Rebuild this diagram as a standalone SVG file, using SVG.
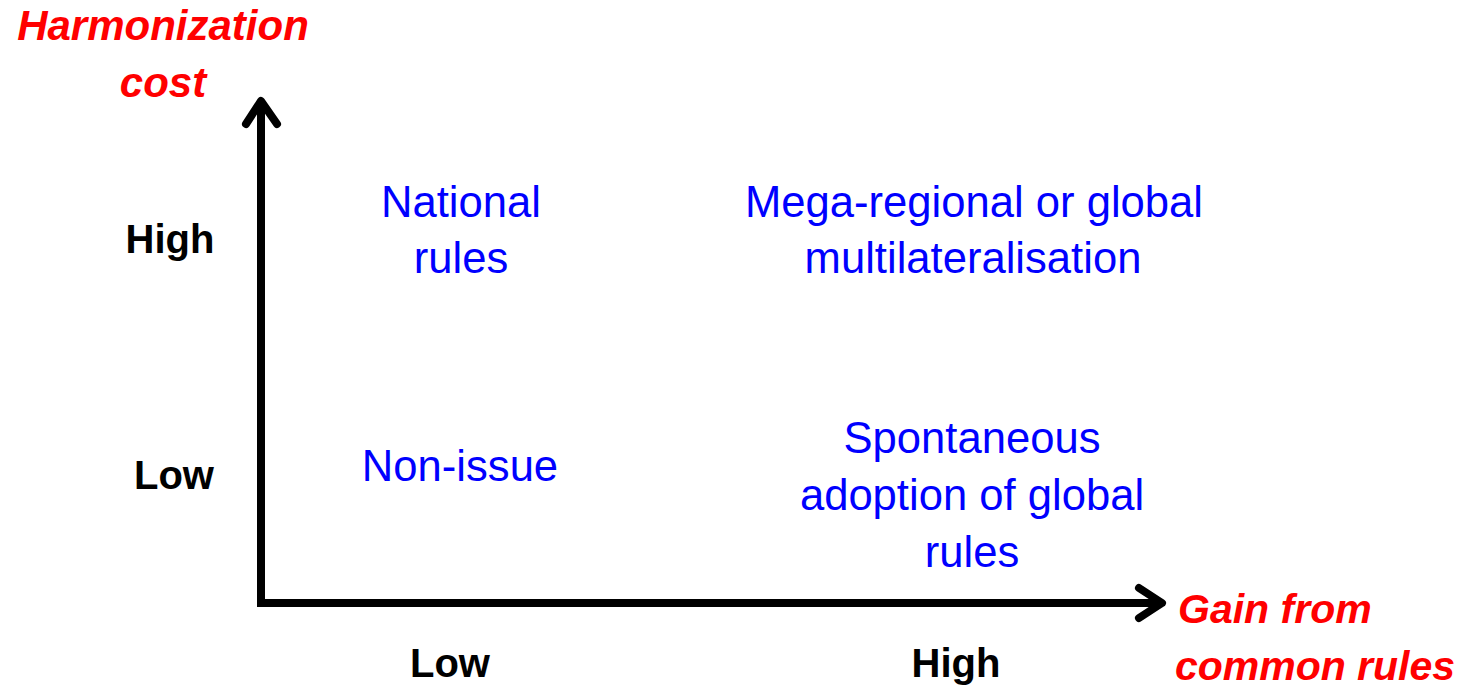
<svg xmlns="http://www.w3.org/2000/svg" width="1462" height="688" viewBox="0 0 1462 688">
  <style>
    text { font-family: "Liberation Sans", Arial, sans-serif; text-anchor: middle; }
    .axis-title { fill: #ff0000; font-weight: bold; font-style: italic; font-size: 41px; }
    .tick { fill: #000000; font-weight: bold; font-size: 40px; }
    .cell { fill: #0000ff; font-size: 43.6px; }
    .axis { fill: none; stroke: #000000; stroke-width: 8; }
    .head { fill: none; stroke: #000000; stroke-width: 8; stroke-linecap: round; stroke-linejoin: round; }
  </style>
  <rect width="1462" height="688" fill="#ffffff"/>

  <!-- axes -->
  <g id="connectors">
    <path class="axis" d="M261,103 V603 H1160" stroke-linejoin="miter"/>
    <polyline class="head" points="246,124 261,101 277,124"/>
    <polyline class="head" points="1139,588 1162,603 1139,618"/>
  </g>

  <!-- axis titles -->
  <g id="y-title">
    <text class="axis-title" x="163" y="40" style="font-size:42px">Harmonization</text>
    <text class="axis-title" x="163" y="97" style="font-size:42px">cost</text>
  </g>
  <g id="x-title">
    <text class="axis-title" x="1178" y="623" style="text-anchor:start">Gain from</text>
    <text class="axis-title" x="1315" y="680">common rules</text>
  </g>

  <!-- tick labels -->
  <g id="y-high"><text class="tick" x="170" y="253">High</text></g>
  <g id="y-low"><text class="tick" x="174" y="489">Low</text></g>
  <g id="x-low"><text class="tick" x="450" y="677">Low</text></g>
  <g id="x-high"><text class="tick" x="956" y="677">High</text></g>

  <!-- quadrants -->
  <g id="national-rules">
    <text class="cell" x="461" y="217">National</text>
    <text class="cell" x="461" y="273">rules</text>
  </g>
  <g id="mega-regional">
    <text class="cell" x="974" y="217">Mega-regional or global</text>
    <text class="cell" x="973" y="273">multilateralisation</text>
  </g>
  <g id="non-issue">
    <text class="cell" x="460" y="481">Non-issue</text>
  </g>
  <g id="spontaneous-adoption">
    <text class="cell" x="972" y="453">Spontaneous</text>
    <text class="cell" x="972" y="510">adoption of global</text>
    <text class="cell" x="972" y="567">rules</text>
  </g>
</svg>
